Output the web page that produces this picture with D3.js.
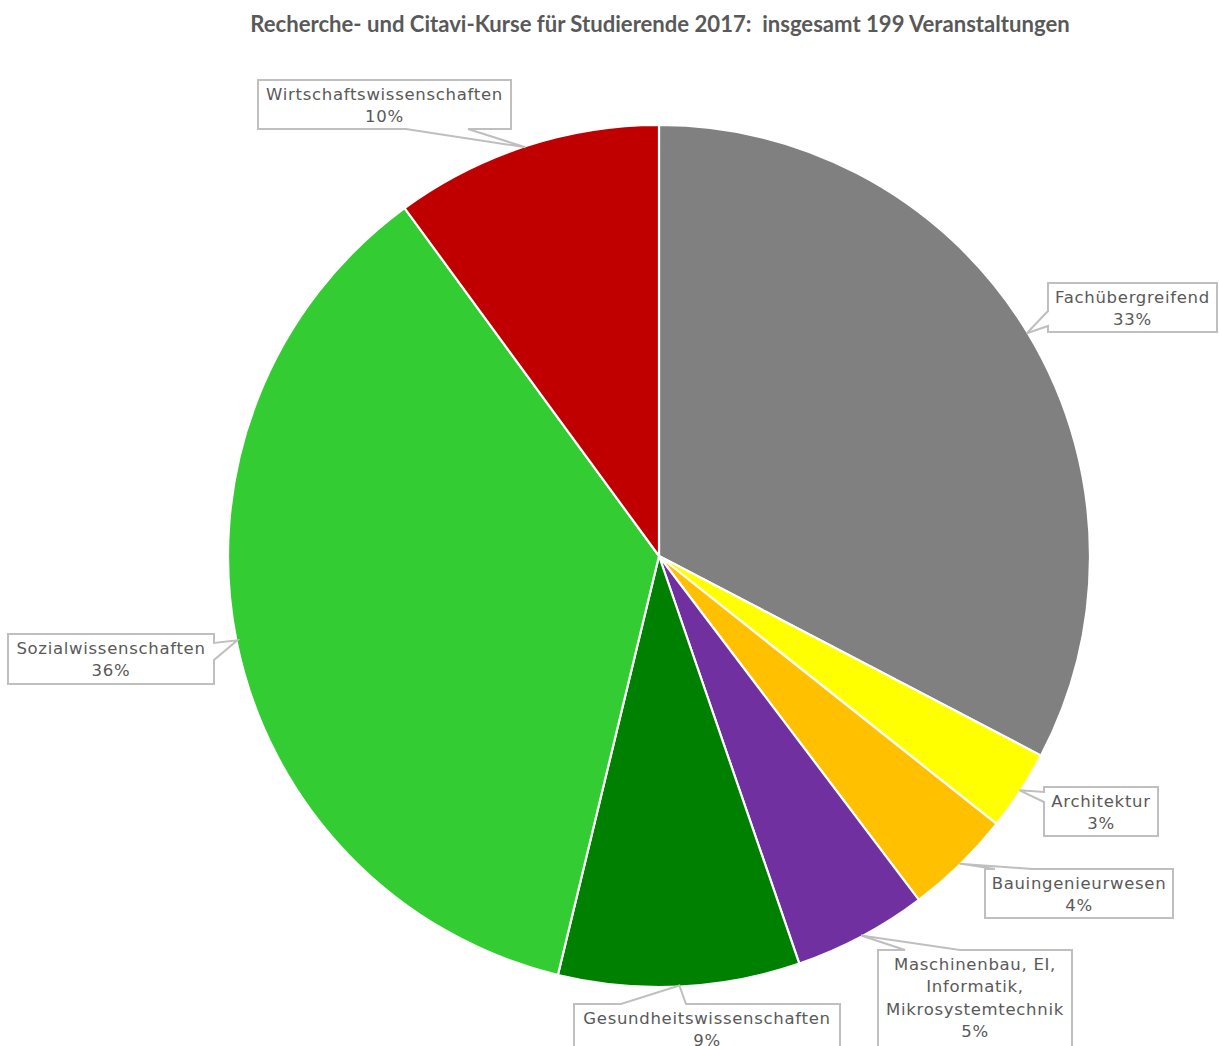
<!DOCTYPE html>
<html>
<head>
<meta charset="utf-8">
<script src="https://cdn.jsdelivr.net/npm/d3@7"></script>
<style>
  html, body { margin: 0; padding: 0; background: #fff; }
  svg { display: block; }
</style>
</head>
<body>
<svg id="chart" width="1219" height="1046"></svg>
<script>
// ---- data ----
const title = "Recherche- und Citavi-Kurse für Studierende 2017:  insgesamt 199 Veranstaltungen";
const categories = [
  "Fachübergreifend",
  "Architektur",
  "Bauingenieurwesen",
  "Maschinenbau, EI, Informatik, Mikrosystemtechnik",
  "Gesundheitswissenschaften",
  "Sozialwissenschaften",
  "Wirtschaftswissenschaften"
];
const labelLines = [
  ["Fachübergreifend"],
  ["Architektur"],
  ["Bauingenieurwesen"],
  ["Maschinenbau, EI,", "Informatik,", "Mikrosystemtechnik"],
  ["Gesundheitswissenschaften"],
  ["Sozialwissenschaften"],
  ["Wirtschaftswissenschaften"]
];
const values = [65, 6, 8, 10, 18, 72, 20];
const colors = ["#808080", "#FFFF00", "#FFC000", "#7030A0", "#008000", "#33CC33", "#C00000"];

// ---- layout (callout boxes) ----
const boxes = [
  {x: 1048, y: 283, w: 169, h: 49, side: "left",   base: [311, 326]},
  {x: 1044, y: 787, w: 114, h: 49, side: "left",   base: [792, 802]},
  {x: 985,  y: 869, w: 188, h: 49, side: "top",    base: [995, 1032]},
  {x: 878,  y: 950, w: 194, h: 110, side: "top",   base: [905, 960]},
  {x: 574,  y: 1004, w: 266, h: 60, side: "top",   base: [621, 686]},
  {x: 8,    y: 634, w: 206, h: 50, side: "right",  base: [643, 660]},
  {x: 258,  y: 80,  w: 253, h: 49, side: "bottom", base: [406, 468]}
];

const svg = d3.select("#chart");
const cx = 659, cy = 556, R = 431;

svg.append("text")
  .attr("x", 660).attr("y", 32)
  .attr("text-anchor", "middle")
  .attr("font-family", "Lato, 'Open Sans', sans-serif")
  .attr("font-weight", "bold")
  .attr("font-size", 22.1)
  .attr("fill", "#595959")
  .style("white-space", "pre")
  .text(title);

const total = d3.sum(values);
const pie = d3.pie().sort(null).value(d => d)(values);
const arc = d3.arc().innerRadius(0).outerRadius(R);

const g = svg.append("g").attr("transform", `translate(${cx},${cy})`);
g.selectAll("path.slice").data(pie).join("path")
  .attr("class", "slice")
  .attr("d", arc)
  .attr("fill", (d, i) => colors[i])
  .attr("stroke", "#fff")
  .attr("stroke-width", 2.2)
  .attr("stroke-linejoin", "round");

function calloutPath(b, tip) {
  const x0 = b.x, y0 = b.y, x1 = b.x + b.w, y1 = b.y + b.h;
  const [a, c] = b.base;
  let p = [];
  if (b.side === "top") {
    p = [[x0,y0],[a,y0],tip,[c,y0],[x1,y0],[x1,y1],[x0,y1]];
  } else if (b.side === "bottom") {
    p = [[x0,y0],[x1,y0],[x1,y1],[c,y1],tip,[a,y1],[x0,y1]];
  } else if (b.side === "left") {
    p = [[x0,y0],[x1,y0],[x1,y1],[x0,y1],[x0,c],tip,[x0,a]];
  } else {
    p = [[x0,y0],[x1,y0],[x1,a],tip,[x1,c],[x1,y1],[x0,y1]];
  }
  return "M" + p.map(q => q.join(",")).join("L") + "Z";
}

const fmt = d3.format(".0%");
const labels = svg.append("g");
pie.forEach((d, i) => {
  const b = boxes[i];
  const m = (d.startAngle + d.endAngle) / 2;
  const tip = [cx + (R - 1) * Math.sin(m), cy - (R - 1) * Math.cos(m)];
  labels.append("path")
    .attr("d", calloutPath(b, tip))
    .attr("fill", "#fff")
    .attr("stroke", "#bfbfbf")
    .attr("stroke-width", 2);
  const lines = labelLines[i].concat([fmt(values[i] / total)]);
  const t = labels.append("text")
    .attr("text-anchor", "middle")
    .attr("font-family", "'DejaVu Sans', sans-serif")
    .attr("font-size", 16.5)
    .attr("letter-spacing", 0.7)
    .attr("fill", "#595959");
  lines.forEach((s, k) => {
    t.append("tspan")
      .attr("x", b.x + b.w / 2)
      .attr("y", b.y + 20 + k * 22.3)
      .text(s);
  });
});
</script>
</body>
</html>
